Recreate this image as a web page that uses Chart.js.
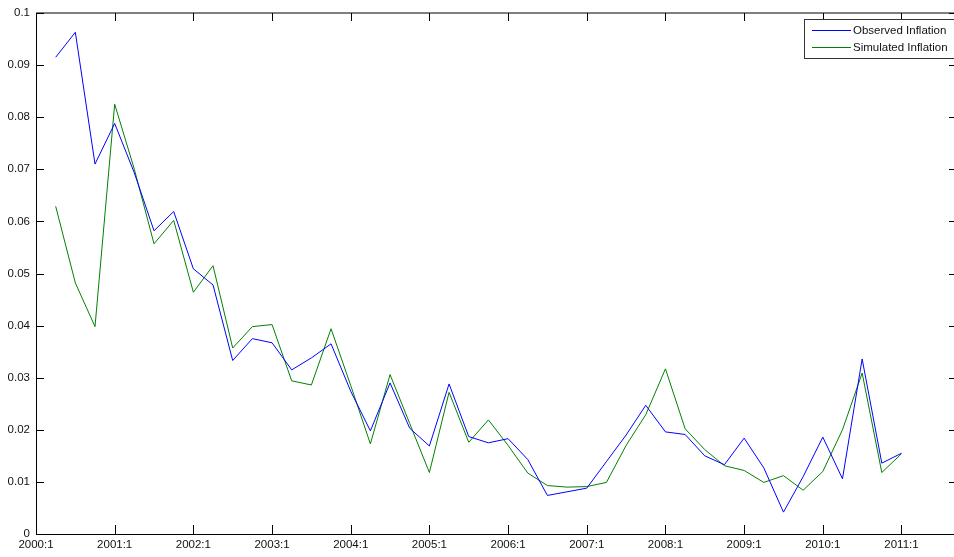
<!DOCTYPE html>
<html>
<head>
<meta charset="utf-8">
<script src="https://cdn.jsdelivr.net/npm/chart.js@4/dist/chart.umd.min.js"></script>
<style>
    html, body { margin: 0; padding: 0; background: #fff; }
    canvas { display: block; }
</style>
</head>
<body>
<canvas id="inflationChart" width="954" height="557"></canvas>
<script>
// Quarterly inflation, 2000:2 - 2011:1
const quarters = [
    '2000:2', '2000:3', '2000:4', '2001:1', '2001:2', '2001:3', '2001:4', '2002:1',
    '2002:2', '2002:3', '2002:4', '2003:1', '2003:2', '2003:3', '2003:4', '2004:1',
    '2004:2', '2004:3', '2004:4', '2005:1', '2005:2', '2005:3', '2005:4', '2006:1',
    '2006:2', '2006:3', '2006:4', '2007:1', '2007:2', '2007:3', '2007:4', '2008:1',
    '2008:2', '2008:3', '2008:4', '2009:1', '2009:2', '2009:3', '2009:4', '2010:1',
    '2010:2', '2010:3', '2010:4', '2011:1'
];

const observed = [
    0.0915, 0.0963, 0.0710, 0.0788, 0.0693, 0.0582, 0.0619, 0.0509, 0.0478, 0.0333,
    0.0375, 0.0367, 0.0315, 0.0338, 0.0365, 0.0274, 0.0198, 0.0290, 0.0203, 0.0169,
    0.0288, 0.0187, 0.0175, 0.0183, 0.0143, 0.0074, 0.0081, 0.0088, 0.0139, 0.0190,
    0.0247, 0.0196, 0.0191, 0.0150, 0.0133, 0.0184, 0.0127, 0.0042, 0.0110, 0.0186,
    0.0106, 0.0336, 0.0136, 0.0155
];

const simulated = [
    0.0629, 0.0482, 0.0398, 0.0825, 0.0700, 0.0557, 0.0602, 0.0464, 0.0515, 0.0357,
    0.0398, 0.0402, 0.0294, 0.0286, 0.0394, 0.0285, 0.0173, 0.0306, 0.0212, 0.0118,
    0.0272, 0.0176, 0.0219, 0.0170, 0.0117, 0.0093, 0.0090, 0.0091, 0.0099, 0.0170,
    0.0229, 0.0317, 0.0202, 0.0162, 0.0131, 0.0122, 0.0099, 0.0112, 0.0084, 0.0120,
    0.0200, 0.0309, 0.0118, 0.0154
];

const xTickLabels = ['2000:1', '2001:1', '2002:1', '2003:1', '2004:1', '2005:1',
                     '2006:1', '2007:1', '2008:1', '2009:1', '2010:1', '2011:1'];
const yTickLabels = ['0', '0.01', '0.02', '0.03', '0.04', '0.05', '0.06', '0.07', '0.08', '0.09', '0.1'];

const seriesNames = ['Observed Inflation', 'Simulated Inflation'];
const seriesColors = ['rgb(0, 0, 255)', 'rgb(0, 128, 0)'];

const FONT = { family: "'Liberation Sans', Arial, sans-serif", size: 11.5 };

// x position counted in quarters from 2000:1
function toPoints(values) {
    return values.map((v, i) => ({ x: i + 1, y: v }));
}

// matlab style frame: inward ticks on all sides + boxed legend
const matlabFrame = {
    id: 'matlabFrame',
    afterDatasetsDraw(chart) {
        const ctx = chart.ctx;
        const a = chart.chartArea;
        const xs = chart.scales.x;
        const ys = chart.scales.y;
        ctx.save();
        ctx.strokeStyle = '#000';
        ctx.lineWidth = 1;

        ctx.beginPath();
        ctx.moveTo(a.left + 0.5, a.top);
        ctx.lineTo(a.left + 0.5, a.bottom);
        ctx.moveTo(a.left, a.bottom + 0.5);
        ctx.lineTo(a.right, a.bottom + 0.5);
        ctx.moveTo(a.left, a.top);
        ctx.lineTo(a.right, a.top);
        ctx.stroke();

        ctx.beginPath();
        xs.ticks.forEach(t => {
            const px = Math.round(xs.getPixelForValue(t.value)) + 0.5;
            ctx.moveTo(px, a.bottom);
            ctx.lineTo(px, a.bottom - 9);
            ctx.moveTo(px, a.top);
            ctx.lineTo(px, a.top + 8);
        });
        ys.ticks.forEach(t => {
            const py = Math.round(ys.getPixelForValue(t.value)) + 0.5;
            ctx.moveTo(a.left, py);
            ctx.lineTo(a.left + 8, py);
            ctx.moveTo(a.right, py);
            ctx.lineTo(a.right - 5, py);
        });
        ctx.stroke();

        // legend box
        const bx = 804.5, by = 19.5, bw = 160, bh = 39;
        ctx.fillStyle = '#fff';
        ctx.fillRect(bx, by, bw, bh);
        ctx.strokeStyle = '#333';
        ctx.strokeRect(bx, by, bw, bh);
        ctx.font = FONT.size + 'px ' + FONT.family;
        ctx.textBaseline = 'middle';
        ctx.textAlign = 'left';
        const rows = [30.5, 47.5];
        chart.data.datasets.forEach((ds, i) => {
            ctx.strokeStyle = ds.borderColor;
            ctx.beginPath();
            ctx.moveTo(812, rows[i]);
            ctx.lineTo(851, rows[i]);
            ctx.stroke();
            ctx.fillStyle = '#111';
            ctx.fillText(ds.label, 853, rows[i] + 0.5);
        });
        ctx.restore();
    }
};

new Chart(document.getElementById('inflationChart'), {
    type: 'line',
    data: {
        datasets: [
            {
                label: seriesNames[0],
                data: toPoints(observed),
                borderColor: seriesColors[0],
                borderWidth: 1,
                pointRadius: 0,
                tension: 0,
                fill: false
            },
            {
                label: seriesNames[1],
                data: toPoints(simulated),
                borderColor: seriesColors[1],
                borderWidth: 1,
                pointRadius: 0,
                tension: 0,
                fill: false
            }
        ]
    },
    options: {
        responsive: false,
        animation: false,
        events: [],
        layout: {
            padding: { top: 13, right: 0, left: 0, bottom: 0 }
        },
        plugins: {
            legend: { display: false },
            tooltip: { enabled: false }
        },
        scales: {
            x: {
                type: 'linear',
                min: 0,
                max: 46.67,
                afterBuildTicks: function(scale) {
                    scale.ticks = xTickLabels.map((l, i) => ({ value: i * 4 }));
                },
                afterFit: function(scale) {
                    scale.height = 23;
                },
                ticks: {
                    autoSkip: false,
                    maxRotation: 0,
                    padding: 4,
                    color: '#111',
                    font: FONT,
                    callback: function(value, index) {
                        return xTickLabels[index];
                    }
                },
                grid: { display: false, drawTicks: false },
                border: { display: false }
            },
            y: {
                min: 0,
                max: 0.1,
                afterBuildTicks: function(scale) {
                    scale.ticks = yTickLabels.map(l => ({ value: parseFloat(l) }));
                },
                afterFit: function(scale) {
                    scale.width = 36;
                },
                ticks: {
                    padding: 6,
                    color: '#111',
                    font: FONT,
                    callback: function(value, index) {
                        return yTickLabels[index];
                    }
                },
                grid: { display: false, drawTicks: false },
                border: { display: false }
            }
        }
    },
    plugins: [matlabFrame]
});
</script>
</body>
</html>
